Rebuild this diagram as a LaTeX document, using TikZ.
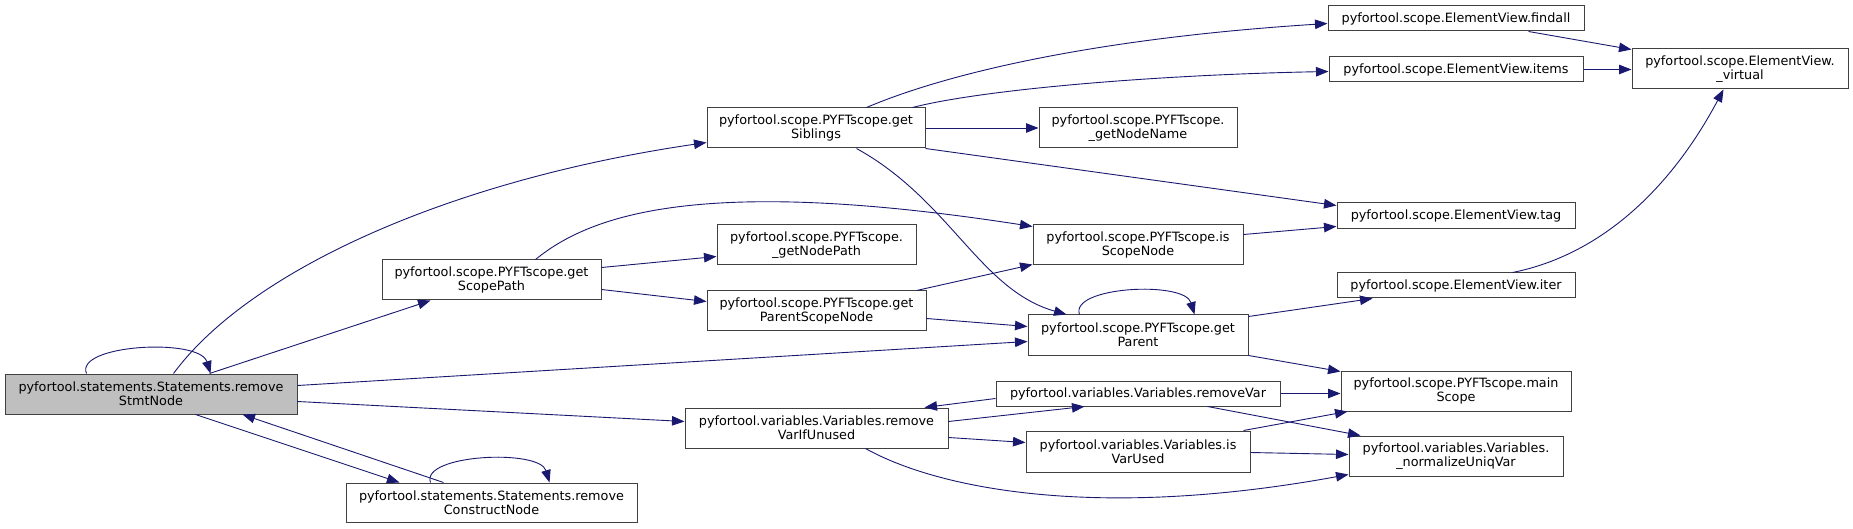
\documentclass[tikz,border=0pt]{standalone}
\usepackage{fontspec}
\setmainfont{DejaVu Sans}
\usetikzlibrary{arrows.meta}
\definecolor{edgecol}{HTML}{191970}
\definecolor{bordcol}{HTML}{404040}
\definecolor{graybox}{HTML}{BFBFBF}
\begin{document}
\begin{tikzpicture}[x=1pt,y=-1pt,
  fn/.style={draw=bordcol, line width=1pt, inner sep=0pt, align=center, rectangle, fill=white,
    font=\fontsize{12.8}{13.6}\selectfont},
  conn/.style={draw=edgecol, line width=0.9pt, -{Triangle[length=12.5pt,width=9.5pt]}}]
\useasboundingbox[fill=white] (0,0) rectangle (1853,529);

% nodes
\node[fn, fill=graybox, minimum width=292pt, minimum height=40pt] (rsn) at (151,394) {pyfortool.statements.Statements.remove\\StmtNode};
\node[fn, minimum width=291pt, minimum height=39pt] (rcn) at (491.5,502.5) {pyfortool.statements.Statements.remove\\ConstructNode};
\node[fn, minimum width=218pt, minimum height=40pt] (sib) at (816,128) {pyfortool.scope.PYFTscope.get\\Siblings};
\node[fn, minimum width=198pt, minimum height=40pt] (gnn) at (1138,128) {pyfortool.scope.PYFTscope.\\\_getNodeName};
\node[fn, minimum width=256pt, minimum height=25pt] (fin) at (1456,18.5) {pyfortool.scope.ElementView.findall};
\node[fn, minimum width=254pt, minimum height=25pt] (itm) at (1456,69.5) {pyfortool.scope.ElementView.items};
\node[fn, minimum width=216pt, minimum height=40pt] (vir) at (1740,69) {pyfortool.scope.ElementView.\\\_virtual};
\node[fn, minimum width=219pt, minimum height=40pt] (gsp) at (491.5,280) {pyfortool.scope.PYFTscope.get\\ScopePath};
\node[fn, minimum width=199pt, minimum height=40pt] (gnp) at (816.5,245) {pyfortool.scope.PYFTscope.\\\_getNodePath};
\node[fn, minimum width=219pt, minimum height=40pt] (gpsn) at (816.5,311) {pyfortool.scope.PYFTscope.get\\ParentScopeNode};
\node[fn, minimum width=210pt, minimum height=40pt] (isn) at (1138,245) {pyfortool.scope.PYFTscope.is\\ScopeNode};
\node[fn, minimum width=238pt, minimum height=26pt] (tag) at (1456,216) {pyfortool.scope.ElementView.tag};
\node[fn, minimum width=238pt, minimum height=25pt] (itr) at (1456,285.5) {pyfortool.scope.ElementView.iter};
\node[fn, minimum width=220pt, minimum height=40pt] (gpr) at (1138,335) {pyfortool.scope.PYFTscope.get\\Parent};
\node[fn, minimum width=230pt, minimum height=40pt] (msc) at (1456,391) {pyfortool.scope.PYFTscope.main\\Scope};
\node[fn, minimum width=263pt, minimum height=40pt] (rviu) at (816.5,428) {pyfortool.variables.Variables.remove\\VarIfUnused};
\node[fn, minimum width=284pt, minimum height=25pt] (rv) at (1138,393.5) {pyfortool.variables.Variables.removeVar};
\node[fn, minimum width=224pt, minimum height=41pt] (ivu) at (1138,451.5) {pyfortool.variables.Variables.is\\VarUsed};
\node[fn, minimum width=214pt, minimum height=40pt] (nuv) at (1456,456) {pyfortool.variables.Variables.\\\_normalizeUniqVar};

% edges
\draw[conn] ([xshift=82pt]rsn.north west) .. controls +(-12,-29) and +(-11,-36) .. ([xshift=206pt]rsn.north west);
\draw[conn] ([xshift=169pt]rsn.north west) .. controls (250,270) and (450,180) .. ([yshift=-35pt]sib.north west);
\draw[conn] ([xshift=205pt]rsn.north west) -- ([xshift=49pt]gsp.south west);
\draw[conn] ([yshift=-12pt]rsn.north east) -- ([yshift=-27pt]gpr.north west);
\draw[conn] ([yshift=-28pt]rsn.north east) -- ([yshift=-14pt]rviu.north west);
\draw[conn] ([xshift=191pt]rsn.south west) -- ([xshift=54pt]rcn.north west);
\draw[conn] ([xshift=98pt]rcn.north west) -- ([xshift=238pt]rsn.south west);
\draw[conn] ([xshift=85pt]rcn.north west) .. controls +(-10,-28) and +(-10,-34) .. ([xshift=204pt]rcn.north west);

\draw[conn] ([xshift=160pt]sib.north west) .. controls (950,72) and (1100,38) .. ([yshift=-18pt]fin.north west);
\draw[conn] ([xshift=206pt]sib.north west) .. controls (980,90) and (1150,75) .. ([yshift=-15pt]itm.north west);
\draw[conn] (sib.east) -- (gnn.west);
\draw[conn] (sib.south east) -- ([yshift=-3pt]tag.north west);
\draw[conn] ([xshift=150pt]sib.south west) .. controls (950,200) and (980,290) .. ([xshift=39pt]gpr.north west);

\draw[conn] ([xshift=154pt]gsp.north west) .. controls (590,215) and (700,175) .. ([yshift=-2pt]isn.north west);
\draw[conn] ([yshift=-8pt]gsp.north east) -- ([yshift=-32pt]gnp.north west);
\draw[conn] ([yshift=-30pt]gsp.north east) -- ([yshift=-11pt]gpsn.north west);
\draw[conn] ([xshift=-10pt]gpsn.north east) -- ([yshift=1pt]isn.south west);
\draw[conn] ([yshift=-28pt]gpsn.north east) -- ([yshift=-12pt]gpr.north west);
\draw[conn] ([yshift=-10pt]isn.north east) -- ([yshift=-24pt]tag.north west);

\draw[conn] ([xshift=52pt]gpr.north west) .. controls +(-10,-28) and +(-10,-34) .. ([xshift=167pt]gpr.north west);
\draw[conn] ([yshift=-2pt]gpr.north east) -- ([xshift=36pt]itr.south west);
\draw[conn] (gpr.south east) -- ([yshift=-1pt]msc.north west);

\draw[conn] ([xshift=201pt]fin.south west) -- ([yshift=-1pt]vir.north west);
\draw[conn] (itm.east) -- (itm.east -| vir.west);
\draw[conn] ([xshift=176pt]itr.north west) .. controls (1600,255) and (1670,190) .. ([xshift=92pt]vir.south west);

\draw[conn] ([yshift=-14pt]rviu.north east) -- ([xshift=89pt]rv.south west);
\draw[conn] ([yshift=-18pt]rv.north west) -- ([xshift=-24pt]rviu.north east);
\draw[conn] ([yshift=-30pt]rviu.north east) -- ([yshift=-12pt]ivu.north west);
\draw[conn] ([xshift=181pt]rviu.south west) .. controls (940,490) and (1100,520) .. ([yshift=2pt]nuv.south west);
\draw[conn] (rv.east) -- (rv.east -| msc.west);
\draw[conn] ([xshift=212pt]rv.south west) -- ([xshift=12pt]nuv.north west);
\draw[conn] ([xshift=-7pt]ivu.north east) -- ([xshift=7pt]msc.south west);
\draw[conn] ([yshift=-22pt]ivu.north east) -- ([yshift=-19pt]nuv.north west);
\end{tikzpicture}
\end{document}
